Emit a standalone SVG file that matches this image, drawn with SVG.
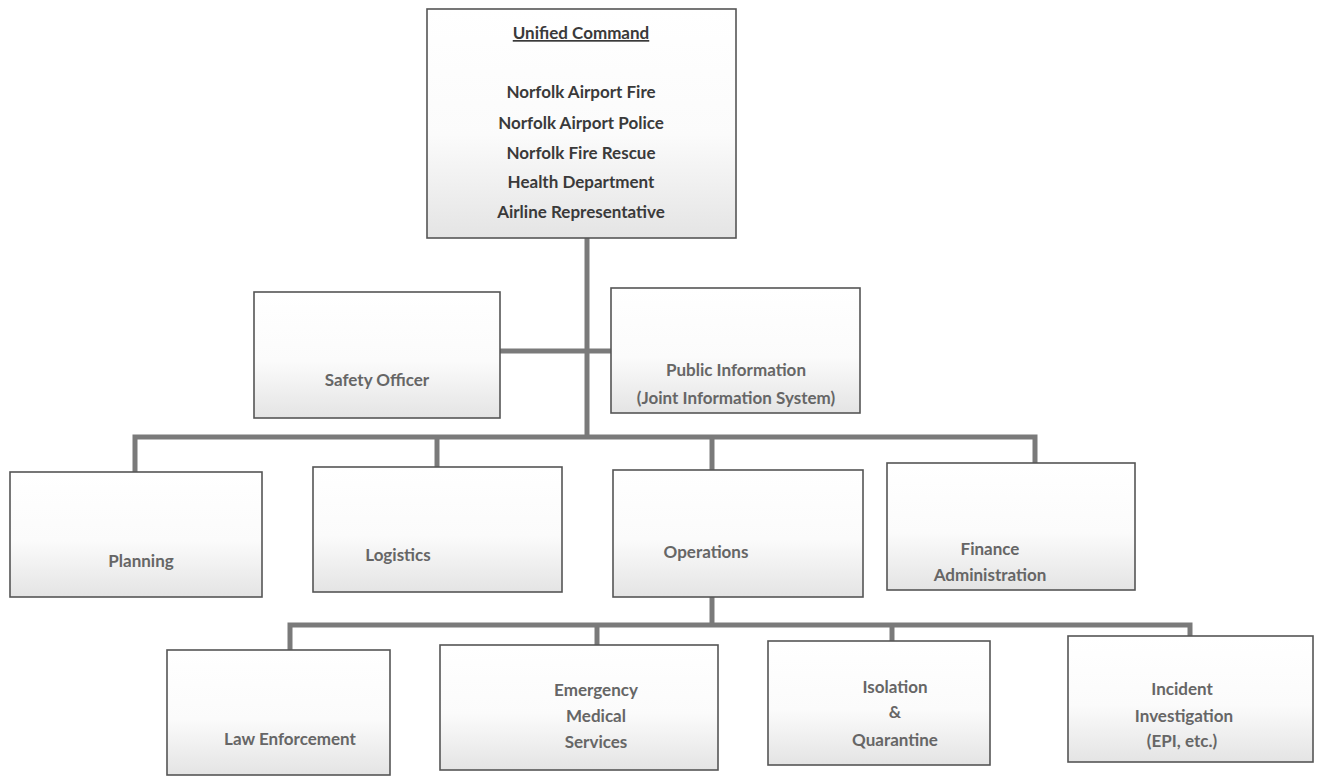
<svg xmlns="http://www.w3.org/2000/svg" width="1321" height="778" viewBox="0 0 1321 778">
<defs>
<linearGradient id="g" x1="0" y1="0" x2="0" y2="1">
<stop offset="0" stop-color="#ffffff"/>
<stop offset="0.55" stop-color="#fbfbfb"/>
<stop offset="1" stop-color="#e4e4e4"/>
</linearGradient>
<style>
.box{fill:url(#g);stroke:#555;stroke-width:1.6}
.t{font-family:Lato,"Open Sans","Liberation Sans",sans-serif;font-weight:bold;font-size:17px;text-anchor:middle;fill:#666}
.d{fill:#3a3a3a}
.c{fill:none;stroke:#7a7a7a;stroke-width:5}
</style>
</defs>
<rect width="1321" height="778" fill="#fff"/>
<g id="connectors">
<path class="c" d="M587 238V437"/>
<path class="c" d="M500 351H611"/>
<path class="c" d="M135 472V437H1035V463"/>
<path class="c" d="M437 437V467"/>
<path class="c" d="M712 437V470"/>
<path class="c" d="M712 597V625"/>
<path class="c" d="M290 650V625H1190V636"/>
<path class="c" d="M597 625V645"/>
<path class="c" d="M892 625V641"/>
</g>
<g id="unified-command">
<rect class="box" x="427" y="9" width="309" height="229"/>
<text class="t d" x="581" y="39" text-decoration="underline">Unified Command</text>
<text class="t d" x="581" y="98">Norfolk Airport Fire</text>
<text class="t d" x="581" y="129">Norfolk Airport Police</text>
<text class="t d" x="581" y="159">Norfolk Fire Rescue</text>
<text class="t d" x="581" y="188">Health Department</text>
<text class="t d" x="581" y="218">Airline Representative</text>
</g>
<g id="safety-officer">
<rect class="box" x="254" y="292" width="246" height="126"/>
<text class="t" x="377" y="386" fill="#888">Safety Officer</text>
</g>
<g id="public-information">
<rect class="box" x="611" y="288" width="249" height="125"/>
<text class="t" x="736" y="376">Public Information</text>
<text class="t" x="736" y="404">(Joint Information System)</text>
</g>
<g id="planning">
<rect class="box" x="10" y="472" width="252" height="125"/>
<text class="t" x="141" y="567">Planning</text>
</g>
<g id="logistics">
<rect class="box" x="313" y="467" width="249" height="125"/>
<text class="t" x="398" y="561">Logistics</text>
</g>
<g id="operations">
<rect class="box" x="613" y="470" width="250" height="127"/>
<text class="t" x="706" y="558">Operations</text>
</g>
<g id="finance-administration">
<rect class="box" x="887" y="463" width="248" height="127"/>
<text class="t" x="990" y="555">Finance</text>
<text class="t" x="990" y="581">Administration</text>
</g>
<g id="law-enforcement">
<rect class="box" x="167" y="650" width="223" height="125"/>
<text class="t" x="290" y="745">Law Enforcement</text>
</g>
<g id="emergency-medical-services">
<rect class="box" x="440" y="645" width="278" height="125"/>
<text class="t" x="596" y="696">Emergency</text>
<text class="t" x="596" y="722">Medical</text>
<text class="t" x="596" y="748">Services</text>
</g>
<g id="isolation-quarantine">
<rect class="box" x="768" y="641" width="222" height="124"/>
<text class="t" x="895" y="693">Isolation</text>
<text class="t" x="895" y="718">&amp;</text>
<text class="t" x="895" y="746">Quarantine</text>
</g>
<g id="incident-investigation">
<rect class="box" x="1068" y="636" width="245" height="126"/>
<text class="t" x="1182" y="695">Incident</text>
<text class="t" x="1184" y="722">Investigation</text>
<text class="t" x="1182" y="747">(EPI, etc.)</text>
</g>
</svg>
